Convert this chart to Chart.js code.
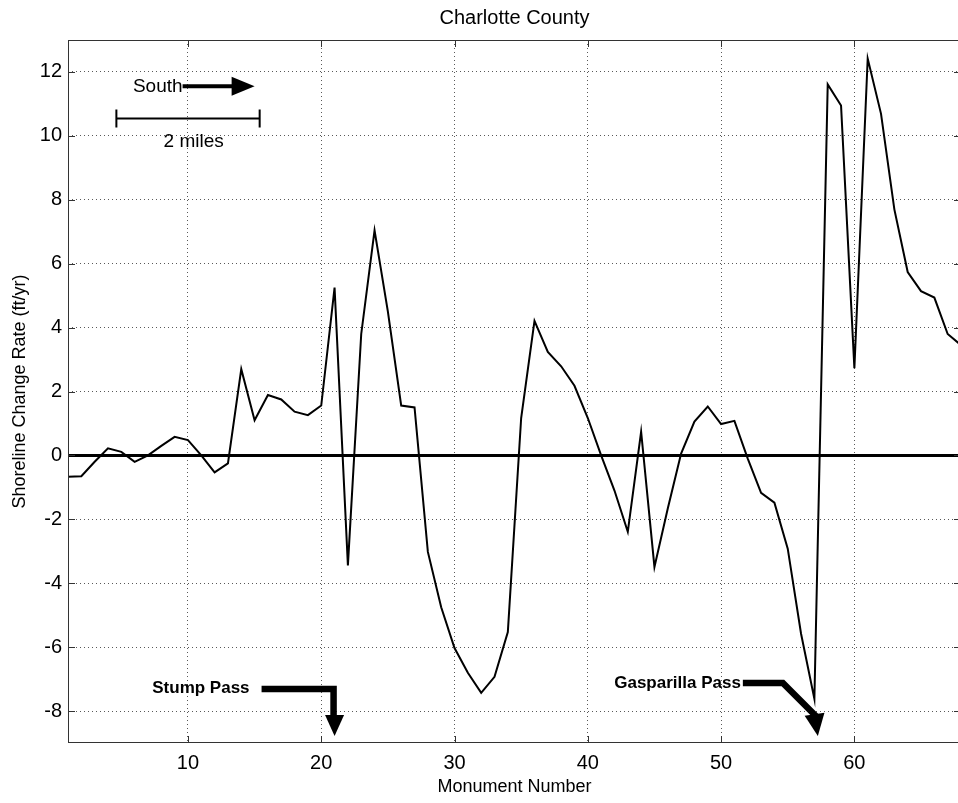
<!DOCTYPE html>
<html>
<head>
<meta charset="utf-8">
<script src="https://cdn.jsdelivr.net/npm/chart.js@4/dist/chart.umd.min.js"></script>
<style>
    html, body { margin: 0; padding: 0; background: #fff; overflow: hidden; }
    .wrap { width: 964px; height: 803px; }
</style>
</head>
<body>
<div class="wrap"><canvas id="chart" width="964" height="803"></canvas></div>
<script>
    // Monument numbers and shoreline change rates (ft/yr)
    const monuments = [1, 2, 3, 4, 5, 6, 7, 8, 9, 10, 11, 12, 13, 14, 15, 16, 17, 18, 19, 20,
        21, 22, 23, 24, 25, 26, 27, 28, 29, 30, 31, 32, 33, 34, 35, 36, 37, 38, 39, 40,
        41, 42, 43, 44, 45, 46, 47, 48, 49, 50, 51, 52, 53, 54, 55, 56, 57, 58, 59, 60,
        61, 62, 63, 64, 65, 66, 67, 68];
    const rates = [-0.67, -0.65, -0.2, 0.22, 0.11, -0.2, 0.0, 0.3, 0.58, 0.48,
        0.0, -0.53, -0.25, 2.7, 1.1, 1.89, 1.75, 1.37, 1.26, 1.56,
        5.25, -3.44, 3.8, 7.04, 4.5, 1.56, 1.5, -3.02, -4.75, -6.03,
        -6.8, -7.43, -6.93, -5.53, 1.17, 4.21, 3.24, 2.79, 2.18, 1.17,
        0.0, -1.1, -2.39, 0.74, -3.49, -1.66, 0.06, 1.06, 1.53, 0.98,
        1.08, -0.1, -1.17, -1.48, -2.92, -5.58, -7.62, 11.61, 10.95, 2.73,
        12.42, 10.69, 7.7, 5.74, 5.14, 4.94, 3.8, 3.45];

    const xTicks = [10, 20, 30, 40, 50, 60];
    const yTicks = [-8, -6, -4, -2, 0, 2, 4, 6, 8, 10, 12];

    const chartTitle = 'Charlotte County';
    const FONT = '"Liberation Sans", Arial, sans-serif';

    // annotation anchors, in data units
    const southTip = [15.0, 11.55];
    const scaleBar = [4.63, 15.38, 10.54];
    const scaleText = [10.43, 9.8];
    const stumpTip = [21, -8.78];
    const gaspTip = [57.26, -8.78];

    function arrowHead(ctx, tx, ty, ux, uy, len, half) {
        const bx = tx - ux * len, by = ty - uy * len;
        ctx.beginPath();
        ctx.moveTo(tx, ty);
        ctx.lineTo(bx - uy * half, by + ux * half);
        ctx.lineTo(bx + uy * half, by - ux * half);
        ctx.closePath();
        ctx.fill();
    }

    const overlay = {
        id: 'overlay',
        beforeDatasetsDraw(chart) {
            const {ctx, chartArea: a, scales: {y}} = chart;
            const y0 = y.getPixelForValue(0);
            ctx.save();
            ctx.strokeStyle = '#000';
            ctx.lineWidth = 3;
            ctx.beginPath();
            ctx.moveTo(a.left, y0);
            ctx.lineTo(a.right, y0);
            ctx.stroke();
            ctx.restore();
        },
        afterDraw(chart) {
            const {ctx, chartArea: a, scales: {x, y}} = chart;
            const px = (p) => [x.getPixelForValue(p[0]), y.getPixelForValue(p[1])];
            ctx.save();

            // title centred over the axes
            ctx.fillStyle = '#000';
            ctx.font = '20px ' + FONT;
            ctx.textAlign = 'center';
            ctx.textBaseline = 'middle';
            ctx.fillText(chartTitle, (a.left + a.right) / 2, 18);

            // axes box with inward ticks
            ctx.strokeStyle = '#333';
            ctx.lineWidth = 1;
            ctx.strokeRect(a.left + 0.5, a.top + 0.5, a.right - a.left - 1, a.bottom - a.top - 1);
            ctx.beginPath();
            xTicks.forEach(v => {
                const p = Math.round(x.getPixelForValue(v)) + 0.5;
                ctx.moveTo(p, a.bottom); ctx.lineTo(p, a.bottom - 7);
                ctx.moveTo(p, a.top); ctx.lineTo(p, a.top + 7);
            });
            yTicks.forEach(v => {
                const p = Math.round(y.getPixelForValue(v)) + 0.5;
                ctx.moveTo(a.left, p); ctx.lineTo(a.left + 7, p);
                ctx.moveTo(a.right, p); ctx.lineTo(a.right - 7, p);
            });
            ctx.stroke();

            ctx.strokeStyle = '#000';

            // South arrow
            const [sx, sy] = px(southTip);
            ctx.lineWidth = 4;
            ctx.beginPath();
            ctx.moveTo(sx - 72, sy);
            ctx.lineTo(sx - 20, sy);
            ctx.stroke();
            arrowHead(ctx, sx, sy, 1, 0, 23, 9.5);
            ctx.font = '19px ' + FONT;
            ctx.textAlign = 'right';
            ctx.fillText('South', sx - 72, sy);

            // 2 miles scale bar
            const bx1 = x.getPixelForValue(scaleBar[0]);
            const bx2 = x.getPixelForValue(scaleBar[1]);
            const by = y.getPixelForValue(scaleBar[2]);
            ctx.lineWidth = 2;
            ctx.beginPath();
            ctx.moveTo(bx1, by); ctx.lineTo(bx2, by);
            ctx.moveTo(bx1, by - 9); ctx.lineTo(bx1, by + 9);
            ctx.moveTo(bx2, by - 9); ctx.lineTo(bx2, by + 9);
            ctx.stroke();
            const [tx, ty] = px(scaleText);
            ctx.textAlign = 'center';
            ctx.fillText('2 miles', tx, ty);

            // Stump Pass
            const [spx, spy] = px(stumpTip);
            ctx.lineWidth = 6.5;
            ctx.beginPath();
            ctx.moveTo(spx - 73, spy - 47);
            ctx.lineTo(spx - 1, spy - 47);
            ctx.lineTo(spx - 1, spy - 18);
            ctx.stroke();
            arrowHead(ctx, spx, spy, 0, 1, 21, 9.5);
            ctx.font = 'bold 17px ' + FONT;
            ctx.textAlign = 'right';
            ctx.fillText('Stump Pass', spx - 85, spy - 48);

            // Gasparilla Pass
            const [gx, gy] = px(gaspTip);
            const cx = gx - 35, cy = gy - 53;
            ctx.beginPath();
            ctx.moveTo(cx - 40, cy);
            ctx.lineTo(cx, cy);
            ctx.lineTo(gx - 1, gy - 19);
            ctx.stroke();
            arrowHead(ctx, gx, gy, 0.15, 0.99, 22, 10);
            ctx.fillText('Gasparilla Pass', cx - 42, cy);

            ctx.restore();
        }
    };

    const ctx = document.getElementById('chart').getContext('2d');
    const chart = new Chart(ctx, {
        type: 'line',
        data: {
            datasets: [{
                data: monuments.map((m, i) => ({x: m, y: rates[i]})),
                borderColor: '#000',
                borderWidth: 2,
                pointRadius: 0,
                tension: 0,
                fill: false
            }]
        },
        options: {
            responsive: false,
            animation: false,
            devicePixelRatio: 1,
            layout: {padding: {left: 0, right: 3, top: 40, bottom: 0}},
            plugins: {
                legend: {display: false},
                tooltip: {enabled: false},
                title: {display: false}
            },
            scales: {
                x: {
                    type: 'linear',
                    min: 1,
                    max: 68,
                    afterBuildTicks: (s) => { s.ticks = xTicks.map(v => ({value: v})); },
                    afterFit: (s) => { s.height = 60; },
                    grid: {color: 'rgba(0,0,0,0.65)', drawTicks: false},
                    border: {display: false, dash: [1, 3]},
                    ticks: {
                        color: '#000',
                        padding: 8,
                        maxRotation: 0,
                        font: {family: FONT, size: 20}
                    },
                    title: {
                        display: true,
                        text: 'Monument Number',
                        color: '#000',
                        font: {family: FONT, size: 18},
                        padding: {top: 0, bottom: 5}
                    }
                },
                y: {
                    type: 'linear',
                    min: -9,
                    max: 13,
                    afterBuildTicks: (s) => { s.ticks = yTicks.map(v => ({value: v})); },
                    afterFit: (s) => { s.width = 68; },
                    grid: {color: 'rgba(0,0,0,0.65)', drawTicks: false},
                    border: {display: false, dash: [1, 3]},
                    ticks: {
                        color: '#000',
                        padding: 6,
                        font: {family: FONT, size: 20}
                    },
                    title: {
                        display: true,
                        text: 'Shoreline Change Rate (ft/yr)',
                        color: '#000',
                        font: {family: FONT, size: 18},
                        padding: {top: 9, bottom: 0}
                    }
                }
            }
        },
        plugins: [overlay]
    });
</script>
</body>
</html>
